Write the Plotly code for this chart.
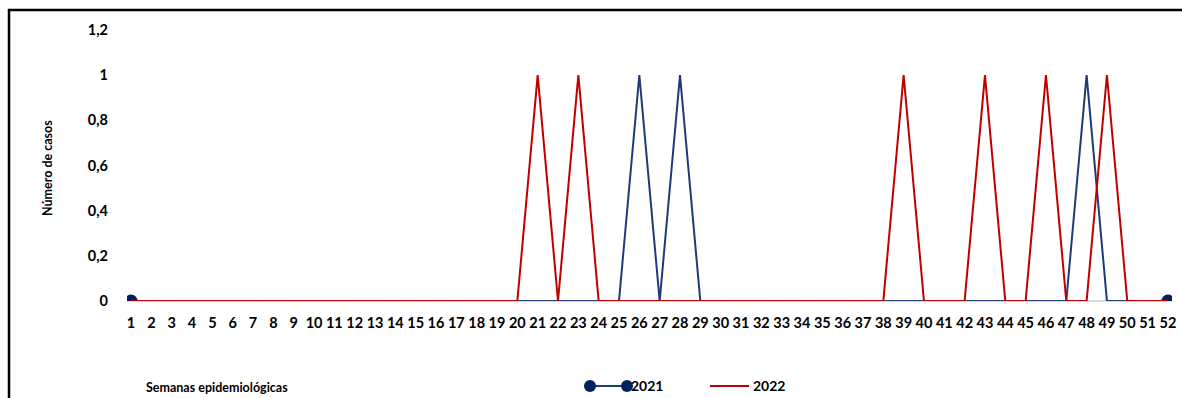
import plotly.graph_objects as go

weeks = list(range(1, 53))
peaks_2021 = [26, 28, 48]
peaks_2022 = [21, 23, 39, 43, 46, 49]
cases_2021 = [1 if w in peaks_2021 else 0 for w in weeks]
cases_2022 = [1 if w in peaks_2022 else 0 for w in weeks]
y_ticks = [0, 0.2, 0.4, 0.6, 0.8, 1, 1.2]
y_tick_labels = ["0", "0,2", "0,4", "0,6", "0,8", "1", "1,2"]

BLUE = "#1f3a78"
NAVY = "#002060"
RED = "#c00000"
FONT = "Lato"

W, H = 1182, 398
L, T = 127, 30
B = H - 301
R = W - 1172
PW, PH = W - L - R, H - T - B

def px(x):
    return (x - L) / PW

def py(y):
    return (H - B - y) / PH

marker_sizes = [13 if (i == 0 or i == len(weeks) - 1) else 0 for i in range(len(weeks))]

fig = go.Figure()
fig.add_trace(go.Scatter(
    x=weeks, y=cases_2021, mode="lines+markers", name="2021",
    line=dict(color=BLUE, width=2),
    marker=dict(color=NAVY, size=marker_sizes, line=dict(width=0), opacity=1),
    showlegend=False, cliponaxis=True, hoverinfo="skip",
))
fig.add_trace(go.Scatter(
    x=weeks, y=cases_2022, mode="lines", name="2022",
    line=dict(color=RED, width=2),
    showlegend=False, cliponaxis=False, hoverinfo="skip",
))

shapes = [
    dict(type="line", xref="paper", yref="paper", x0=px(9), x1=px(9), y0=py(9), y1=py(398),
         line=dict(color="black", width=2.5)),
    dict(type="line", xref="paper", yref="paper", x0=px(8), x1=px(1182), y0=py(10), y1=py(10),
         line=dict(color="black", width=2.5)),
    dict(type="line", xref="paper", yref="paper", x0=px(590), x1=px(627), y0=py(386), y1=py(386),
         line=dict(color=BLUE, width=2)),
    dict(type="circle", xref="paper", yref="paper", x0=px(584), x1=px(596), y0=py(380), y1=py(392),
         fillcolor=NAVY, line=dict(width=0)),
    dict(type="circle", xref="paper", yref="paper", x0=px(621), x1=px(633), y0=py(380), y1=py(392),
         fillcolor=NAVY, line=dict(width=0)),
    dict(type="line", xref="paper", yref="paper", x0=px(710), x1=px(749), y0=py(386), y1=py(386),
         line=dict(color=RED, width=2)),
]

annotations = [
    dict(text="<b>2021</b>", xref="paper", yref="paper", x=px(629), y=py(385),
         xanchor="left", yanchor="middle", showarrow=False, font=dict(family=FONT, size=14, color="black")),
    dict(text="<b>2022</b>", xref="paper", yref="paper", x=px(751), y=py(385),
         xanchor="left", yanchor="middle", showarrow=False, font=dict(family=FONT, size=14, color="black")),
    dict(text="<b>Semanas epidemiológicas</b>", xref="paper", yref="paper", x=px(144), y=py(387),
         xanchor="left", yanchor="middle", showarrow=False, font=dict(family=FONT, size=12.5, color="black")),
    dict(text="<b>Número de casos</b>", xref="paper", yref="paper", x=px(47), y=py(168),
         xanchor="center", yanchor="middle", textangle=-90, showarrow=False,
         font=dict(family=FONT, size=12.5, color="black")),
]

fig.update_layout(
    template="none",
    width=W, height=H, autosize=False,
    margin=dict(l=L, r=R, t=T, b=B, pad=0, autoexpand=False),
    paper_bgcolor="white", plot_bgcolor="white",
    shapes=shapes, annotations=annotations,
    hovermode=False,
    xaxis=dict(
        range=[0.8, 52.2], tickmode="array", tickvals=weeks,
        ticktext=["<b>%d</b>" % w for w in weeks], automargin=False,
        showgrid=False, zeroline=False, showline=False, ticks="",
        tickfont=dict(family=FONT, size=14.5, color="black"), ticklabelstandoff=11,
        tickangle=0,
    ),
    yaxis=dict(
        range=[0, 1.2], tickmode="array", tickvals=y_ticks, automargin=False,
        ticktext=["<b>%s</b>" % t for t in y_tick_labels],
        showgrid=False, zeroline=True, zerolinecolor="#d9d9d9", zerolinewidth=1.5,
        showline=False, ticks="",
        tickfont=dict(family=FONT, size=14.5, color="black"), ticklabelstandoff=18,
    ),
)

fig.write_html(
    "out.html",
    config={"displayModeBar": False, "responsive": False},
    post_script="document.body.style.margin='0';document.body.style.overflow='hidden';",
)
